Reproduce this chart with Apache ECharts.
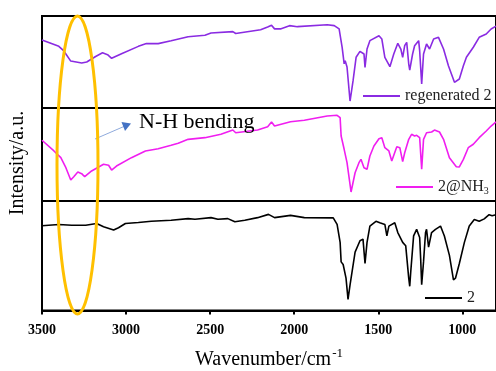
<!DOCTYPE html>
<html>
<head>
  <meta charset="UTF-8">
  <script src="https://cdn.jsdelivr.net/npm/echarts@6/dist/echarts.min.js"></script>
  <style>
    body { margin: 0; padding: 0; background: #ffffff; }
    #chart { width: 496px; height: 371px; }
  </style>
</head>
<body>
  <div id="chart"></div>
  <script>
    // wavenumbers (cm-1) and relative transmittance (% of each panel)
    const wnRegen = [3500, 3400, 3370, 3329, 3264, 3234, 3181, 3140, 3110, 3086, 3027, 2927, 2879, 2809, 2732, 2631, 2531, 2495, 2365, 2348, 2200, 2158, 2135, 2117, 2082, 2028, 1981, 1804, 1762, 1733, 1715, 1703, 1697, 1686, 1668, 1650, 1632, 1609, 1585, 1579, 1567, 1550, 1496, 1479, 1461, 1431, 1408, 1384, 1366, 1355, 1343, 1331, 1319, 1313, 1296, 1284, 1260, 1254, 1242, 1231, 1213, 1195, 1171, 1142, 1112, 1083, 1047, 1018, 994, 976, 935, 900, 858, 829, 800];
    const tRegen = [74, 67, 62, 51, 49, 50, 56, 60, 58, 54, 59, 67, 70, 70, 73, 77.5, 79, 81.5, 83, 81, 85, 88, 90, 86, 86, 89.5, 88.4, 90.5, 89.5, 86, 66, 48, 51.4, 44.6, 7.6, 29.7, 55.1, 61.6, 58.7, 44.2, 64.1, 73.2, 78.6, 75, 55.1, 44.9, 58.7, 70.3, 64.1, 55.1, 67.7, 71.4, 47.8, 41.3, 58.7, 67.7, 73.2, 62.3, 26.1, 58.7, 69.6, 64.1, 75, 76.8, 64.1, 46, 27.9, 31.5, 46, 55.1, 66, 76.8, 80.4, 85.9, 89];

    const wnNH3 = [3500, 3429, 3388, 3358, 3329, 3311, 3287, 3264, 3246, 3205, 3134, 3104, 3086, 3057, 2968, 2885, 2809, 2732, 2690, 2631, 2531, 2436, 2365, 2348, 2218, 2158, 2135, 2117, 2022, 1940, 1804, 1745, 1727, 1721, 1703, 1686, 1662, 1638, 1615, 1603, 1585, 1567, 1550, 1526, 1496, 1479, 1461, 1437, 1420, 1390, 1372, 1355, 1343, 1319, 1302, 1284, 1272, 1254, 1242, 1231, 1213, 1183, 1166, 1136, 1112, 1077, 1036, 1018, 994, 965, 935, 900, 858, 829, 800];
    const tNH3 = [65.3, 53.8, 46.6, 35.8, 22.6, 26.1, 31.2, 29.4, 26.1, 32.3, 39.5, 38.4, 33.3, 37.6, 46.6, 53.8, 56.2, 59.9, 62, 66.3, 68.1, 71.7, 76.3, 73.4, 76.3, 79.9, 84.9, 80.6, 85.3, 86.8, 91.4, 92.2, 89.6, 69.9, 55.6, 41.2, 9.7, 30.4, 41.2, 44.8, 35.8, 34.1, 48.4, 59.1, 67, 68.1, 57.3, 53.8, 43, 58.4, 57.3, 42.3, 51.9, 66.3, 71.7, 69.9, 70.6, 68.1, 34.1, 66.3, 73.4, 74.2, 76.3, 74.2, 66.3, 46.6, 36.9, 36.6, 44.8, 57.3, 61, 68.1, 75.3, 80.6, 85];

    const wnPure = [3500, 3400, 3323, 3240, 3175, 3134, 3074, 3045, 3004, 2927, 2850, 2732, 2631, 2590, 2495, 2454, 2395, 2353, 2294, 2218, 2153, 2117, 2022, 1940, 1768, 1745, 1727, 1721, 1709, 1692, 1680, 1668, 1638, 1609, 1591, 1579, 1567, 1550, 1514, 1491, 1461, 1449, 1437, 1402, 1384, 1355, 1337, 1319, 1313, 1307, 1290, 1272, 1254, 1248, 1242, 1231, 1219, 1213, 1201, 1183, 1160, 1130, 1107, 1077, 1053, 1041, 1018, 988, 959, 929, 900, 870, 841, 823, 800];
    const tPure = [77.4, 78.6, 77.9, 77.9, 79.5, 76.5, 73.5, 75.6, 79.5, 80.4, 81.5, 82.4, 83.9, 83.3, 84.8, 83.3, 83.9, 81, 82.4, 84.8, 87.8, 84.8, 86.9, 84.8, 84.6, 78.6, 62.2, 44.4, 42, 29.5, 10.1, 23.5, 53.3, 63.7, 65.2, 42.9, 62.2, 77.1, 81.5, 80.1, 78.6, 68.1, 77.1, 80.1, 71.2, 62.2, 59.2, 29.5, 22.1, 35.4, 68.1, 74.1, 66.7, 47.3, 23.5, 44.4, 71.2, 74.1, 57.8, 71.2, 74.1, 77.1, 68.1, 50.3, 27.9, 29.5, 42.9, 62.2, 77.1, 83, 81.5, 83.7, 87.5, 86.6, 87.5];

    const tickValues = [1000, 1500, 2000, 2500, 3000, 3500];

    const zip = (xs, ys) => xs.map((x, i) => [x, ys[i]]);

    const serif = '"Liberation Serif", "Times New Roman", serif';

    // three stacked panels, top to bottom
    const grids = [
      { left: 42, right: -4, top: 16, height: 92 },
      { left: 42, right: -4, top: 108, height: 93 },
      { left: 42, right: -4, top: 201, height: 112 }
    ].map(g => Object.assign(g, { show: true, borderColor: '#000', borderWidth: 2, backgroundColor: 'transparent' }));

    const xAxes = [0, 1, 2].map(i => ({
      type: 'value',
      gridIndex: i,
      min: 800,
      max: 3500,
      inverse: true,
      show: i === 2,
      splitLine: { show: false },
      axisLine: { show: true, lineStyle: { color: '#000', width: 2 } },
      axisTick: { show: true, inside: false, length: 4, lineStyle: { width: 2 }, customValues: tickValues },
      axisLabel: {
        customValues: tickValues,
        formatter: v => String(v),
        margin: 13,
        color: '#000',
        fontFamily: serif,
        fontWeight: 'bold',
        fontSize: 14
      },
      name: i === 2 ? 'Wavenumber/cm{sup|-1}' : '',
      nameLocation: 'middle',
      nameGap: 37,
      nameTextStyle: {
        fontFamily: serif,
        fontSize: 20,
        color: '#000',
        rich: {
          sup: { fontFamily: serif, fontSize: 13, padding: [0, 0, 12, 1], color: '#000' }
        }
      }
    }));

    const yAxes = [0, 1, 2].map(i => ({
      type: 'value',
      gridIndex: i,
      min: 0,
      max: 100,
      show: false
    }));

    const lineSeries = (name, data, idx, color) => ({
      name: name,
      type: 'line',
      xAxisIndex: idx,
      yAxisIndex: idx,
      data: data,
      symbol: 'none',
      lineStyle: { color: color, width: 1.6 },
      itemStyle: { color: color },
      animation: false
    });

    const legendBase = {
      orient: 'horizontal',
      padding: 0,
      icon: 'rect',
      itemWidth: 37,
      itemHeight: 2,
      itemGap: 0,
      textStyle: {
        fontFamily: serif,
        fontSize: 16,
        color: '#222',
        rich: {
          sub: { fontFamily: serif, fontSize: 10, padding: [9, 0, 0, 0], color: '#222' }
        }
      }
    };

    const chart = echarts.init(document.getElementById('chart'));

    const option = {
      animation: false,
      grid: grids,
      xAxis: xAxes,
      yAxis: yAxes,
      legend: [
        Object.assign({}, legendBase, { data: ['regenerated 2'], left: 363, top: 88 }),
        Object.assign({}, legendBase, { data: ['2@NH3'], left: 396, top: 179, formatter: () => '2@NH{sub|3}' }),
        Object.assign({}, legendBase, { data: ['2'], left: 425, top: 290 })
      ],
      series: [
        lineSeries('regenerated 2', zip(wnRegen, tRegen), 0, '#8a2be2'),
        lineSeries('2@NH3', zip(wnNH3, tNH3), 1, '#f01ef0'),
        lineSeries('2', zip(wnPure, tPure), 2, '#000000')
      ],
      graphic: [
        {
          type: 'text',
          z: 100,
          rotation: Math.PI / 2,
          x: 18, y: 163,
          style: {
            text: 'Intensity/a.u.',
            fontFamily: serif,
            fontSize: 20,
            fill: '#000',
            align: 'center',
            verticalAlign: 'middle'
          }
        },
        {
          type: 'text',
          z: 100,
          x: 139, y: 122,
          style: {
            text: 'N-H bending',
            fontFamily: serif,
            fontSize: 22,
            fill: '#000',
            verticalAlign: 'middle'
          }
        },
        {
          type: 'line',
          z: 100,
          shape: { x1: 95, y1: 139, x2: 125, y2: 126 },
          style: { stroke: '#8faadc', lineWidth: 1 }
        },
        {
          type: 'polygon',
          z: 100,
          shape: { points: [[131, 123.5], [121.5, 122], [125, 131]] },
          style: { fill: '#4472c4' }
        },
        {
          type: 'ellipse',
          z: 100,
          shape: { cx: 77.5, cy: 165, rx: 20.5, ry: 149 },
          style: { fill: 'none', stroke: '#ffc000', lineWidth: 3 }
        }
      ]
    };

    chart.setOption(option);
  </script>
</body>
</html>
